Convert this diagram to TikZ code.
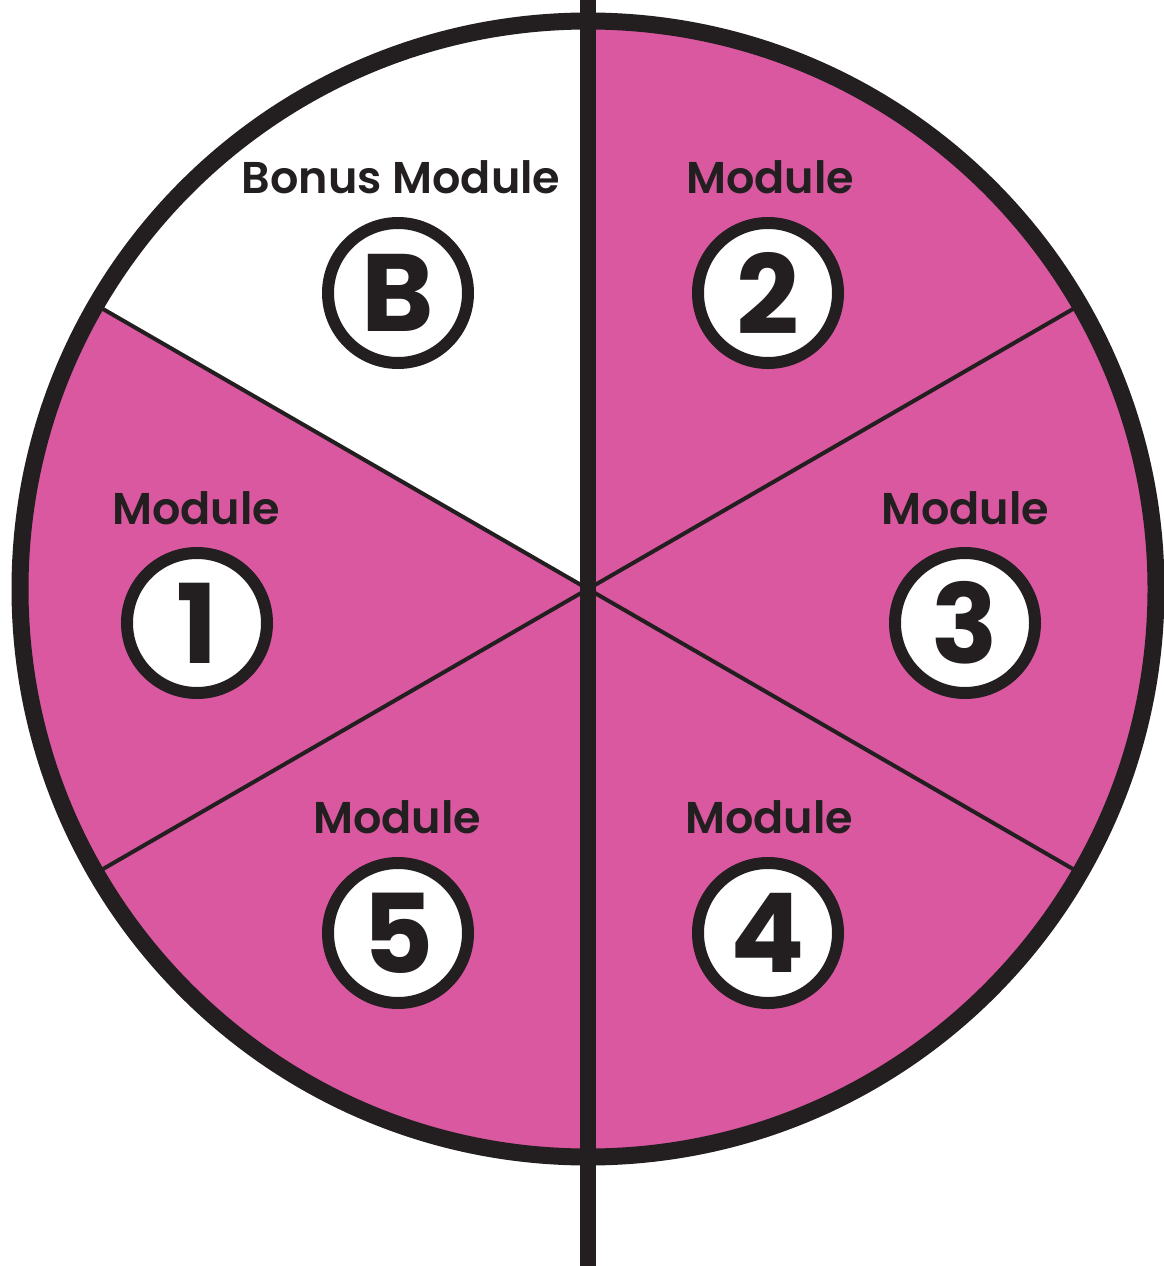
\documentclass[tikz,border=0pt]{standalone}
\usepackage{fontspec}
\newfontfamily\lblfont{Poppins SemiBold}
\newfontfamily\numfont{Poppins Bold}
\definecolor{wheelpink}{HTML}{D958A0}
\definecolor{ink}{HTML}{231F20}
\tikzset{
  x=1pt, y=1pt,
  spoke/.style={draw=ink, line width=4pt},
  rimline/.style={draw=ink, line width=17pt},
  axisline/.style={draw=ink, line width=16pt},
  badge/.style={circle, draw=ink, line width=12pt, fill=white, minimum size=140pt, inner sep=0pt,
    text=ink, font=\numfont\fontsize{110}{110}\selectfont},
  lbl/.style={anchor=base, inner sep=0pt, text=ink, font=\lblfont\fontsize{44.5}{50}\selectfont}
}
\begin{document}
\begin{tikzpicture}
\useasboundingbox (0,0) rectangle (1163,-1266);
\coordinate (c) at (588,-589);
% filled wheel
\fill[wheelpink] (c) circle[radius=568];
\fill[white] (c) -- ++(90:568) arc[start angle=90, end angle=150, radius=568] -- cycle;
% spokes
\path (c) ++(30:568) coordinate (s30);
\path (c) ++(150:568) coordinate (s150);
\path (c) ++(210:568) coordinate (s210);
\path (c) ++(330:568) coordinate (s330);
\draw[spoke] (c) -- (s30);
\draw[spoke] (c) -- (s150);
\draw[spoke] (c) -- (s210);
\draw[spoke] (c) -- (s330);
% rim
\node[circle, rimline, minimum size=1136pt, inner sep=0pt] (rim) at (c) {};
% vertical axis
\coordinate (axtop) at (588,0);
\coordinate (axbot) at (588,-1266);
\draw[axisline] (axtop) -- (axbot);
% labels
\node[lbl] (lB) at (401,-193) {Bonus Module};
\node[lbl] (l2) at (770,-193) {Module};
\node[lbl] (l1) at (196,-524) {Module};
\node[lbl] (l3) at (965,-524) {Module};
\node[lbl] (l5) at (397,-833) {Module};
\node[lbl] (l4) at (769,-833) {Module};
% badges
\node[badge] (bB) at (398,-293) {B};
\node[badge] (b2) at (768,-293) {2};
\node[badge] (b1) at (197,-623) {1};
\node[badge] (b3) at (965,-623) {3};
\node[badge] (b5) at (398,-933) {5};
\node[badge] (b4) at (768,-933) {4};
\end{tikzpicture}
\end{document}
